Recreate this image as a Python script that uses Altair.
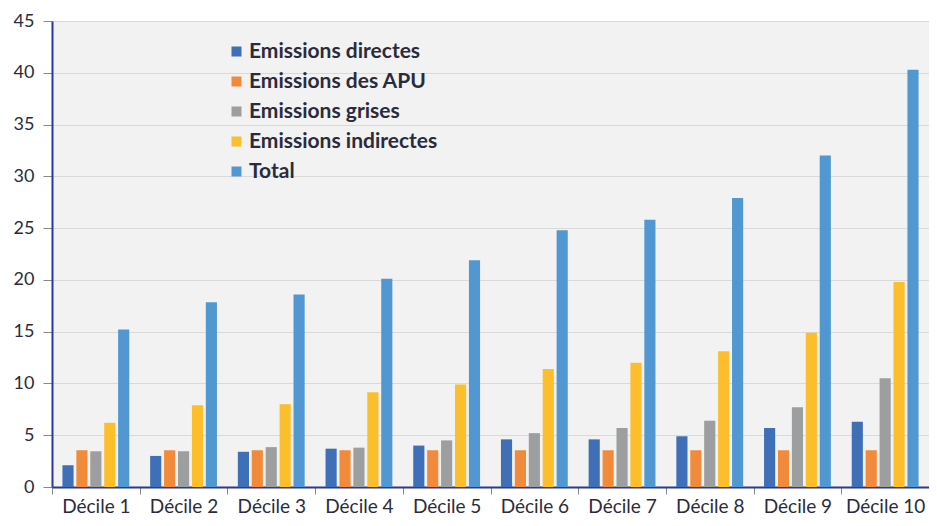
import altair as alt
import pandas as pd

deciles = ["Décile 1", "Décile 2", "Décile 3", "Décile 4", "Décile 5",
           "Décile 6", "Décile 7", "Décile 8", "Décile 9", "Décile 10"]
series = ["Emissions directes", "Emissions des APU", "Emissions grises",
          "Emissions indirectes", "Total"]
colors = ["#3e6fb7", "#f28a3c", "#9c9e9f", "#fdbe2c", "#5198d3"]

directes = [2.1, 3.0, 3.4, 3.7, 4.0, 4.6, 4.6, 4.9, 5.7, 6.3]
apu = [3.55, 3.55, 3.55, 3.55, 3.55, 3.55, 3.55, 3.55, 3.55, 3.55]
grises = [3.45, 3.45, 3.85, 3.8, 4.5, 5.2, 5.7, 6.4, 7.7, 10.5]
indirectes = [6.2, 7.9, 8.0, 9.15, 9.9, 11.4, 12.0, 13.1, 14.9, 19.8]
total = [15.2, 17.85, 18.6, 20.1, 21.9, 24.8, 25.8, 27.9, 32.0, 40.3]

values = [directes, apu, grises, indirectes, total]
rows = []
for s, vals in zip(series, values):
    for d, v in zip(deciles, vals):
        rows.append({"decile": d, "serie": s, "valeur": v})
df = pd.DataFrame(rows)

chart = alt.Chart(df).mark_bar().encode(
    x=alt.X("decile:N", sort=deciles, title=None,
            scale=alt.Scale(paddingInner=0, paddingOuter=0),
            axis=alt.Axis(labelAngle=0, labelFont="Lato", labelFontSize=19,
                          labelColor="#2b2b3b", labelPadding=3,
                          domainColor="#2b3990", domainWidth=2,
                          tickColor="#888888", tickSize=7, tickBand="extent",
                          grid=False)),
    xOffset=alt.XOffset("serie:N", sort=series,
                        scale=alt.Scale(paddingInner=0.2, paddingOuter=0.75)),
    y=alt.Y("valeur:Q", title=None,
            scale=alt.Scale(domain=[0, 45], nice=False),
            axis=alt.Axis(values=list(range(0, 50, 5)), labelFont="Lato",
                          labelFontSize=18, labelColor="#2b2b3b", labelPadding=9,
                          domainColor="#2b3990", domainWidth=2,
                          tickColor="#888888", tickSize=9,
                          gridColor="#d9d9d9", gridWidth=1.2)),
    color=alt.Color("serie:N", sort=series,
                    scale=alt.Scale(domain=series, range=colors),
                    legend=alt.Legend(title=None, orient="none", legendX=174, legendY=20,
                                      symbolType="square", symbolSize=100,
                                      symbolStrokeWidth=0, labelLimit=400,
                                      labelFont="Lato", labelFontSize=21,
                                      labelFontWeight="bold", labelColor="#2b2b3b",
                                      rowPadding=8, labelOffset=2)),
).properties(
    width=877, height=466,
    autosize=alt.AutoSizeParams(type="none"),
    padding={"left": 44, "top": 13, "right": 0, "bottom": 31},
).configure_view(
    fill="#f2f2f2", stroke=None
)

chart.save("out.html", embed_options={"renderer": "svg", "actions": False})
